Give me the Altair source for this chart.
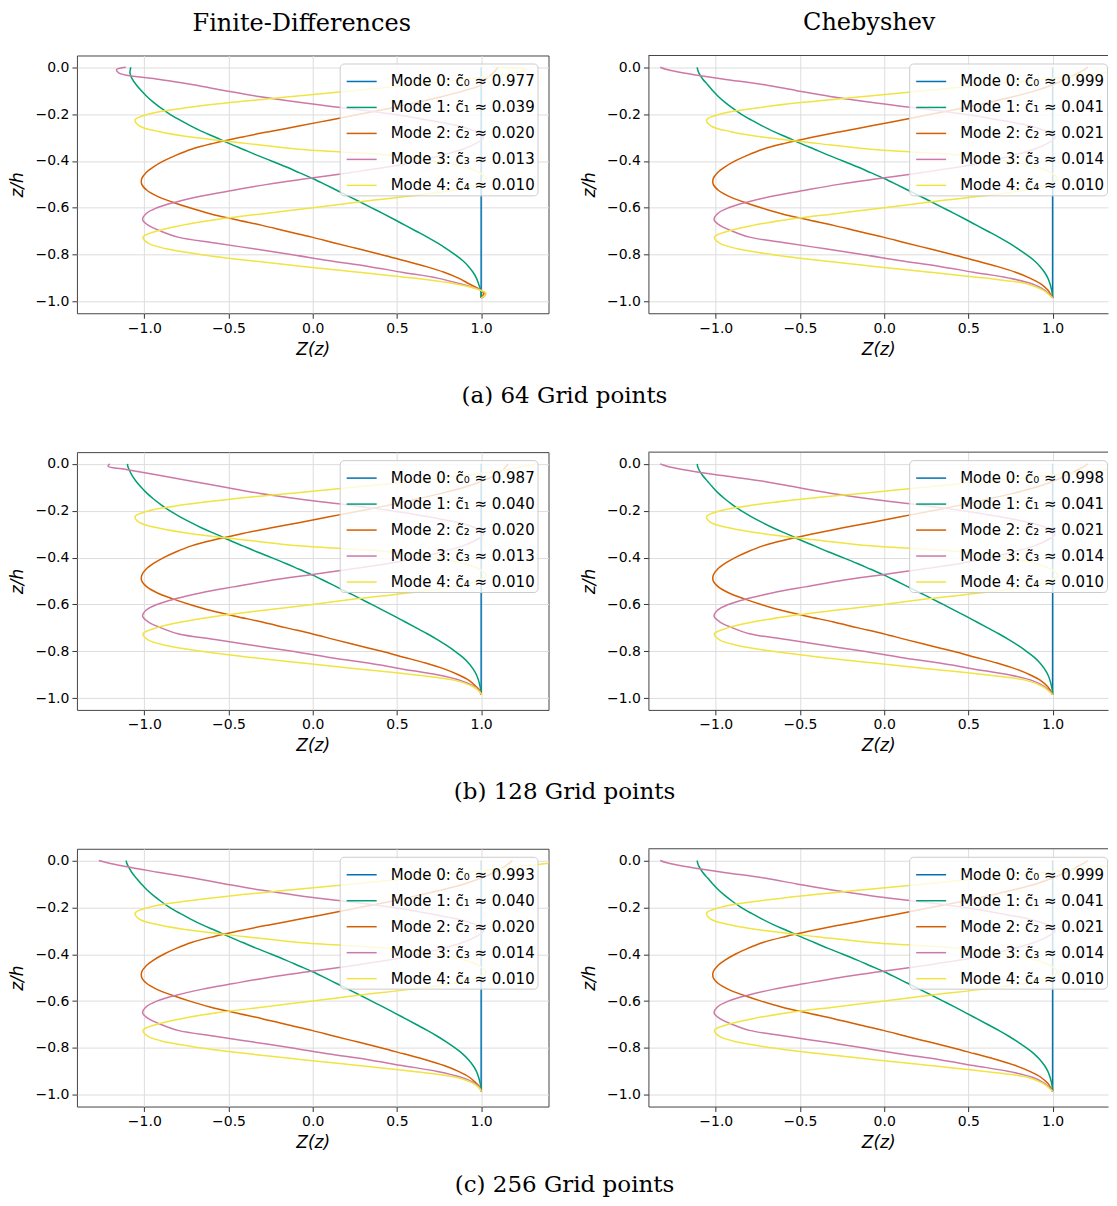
import altair as alt
import pandas as pd

# ---------------- data ----------------
# depth grid (z/h): top part, shared interior, bottom part
Z_TOP = [0.0, -0.01, -0.025, -0.05]
Z_MID = [-0.075, -0.1, -0.125, -0.15, -0.175, -0.2, -0.225, -0.25, -0.275, -0.3,
         -0.325, -0.35, -0.375, -0.4, -0.425, -0.45, -0.475, -0.5, -0.525, -0.55,
         -0.575, -0.6, -0.625, -0.65, -0.675, -0.7, -0.725, -0.75, -0.775, -0.8,
         -0.825, -0.85, -0.875, -0.9, -0.925]
Z_END = [-0.95, -0.965, -0.975, -0.985]

MODE0_Z = [0.0, -0.985]
MODE0_V = [1.0, 1.0]

M1_MID = [-1.048, -1.018, -0.985, -0.945, -0.900, -0.850, -0.790, -0.725, -0.655, -0.575,
          -0.497, -0.415, -0.333, -0.245, -0.160, -0.080, 0.000, 0.072, 0.142, 0.212,
          0.282, 0.350, 0.418, 0.485, 0.550, 0.615, 0.680, 0.740, 0.795, 0.845,
          0.890, 0.925, 0.952, 0.972, 0.985]
M2_MID = [1.00, 0.90, 0.77, 0.62, 0.46, 0.285, 0.105, -0.075, -0.26, -0.435,
          -0.59, -0.72, -0.81, -0.885, -0.945, -0.99, -1.015, -1.015, -0.985, -0.925,
          -0.835, -0.73, -0.61, -0.46, -0.30, -0.155, -0.005, 0.13, 0.27, 0.41,
          0.54, 0.67, 0.78, 0.865, 0.93]
M3_MID = [-0.71, -0.52, -0.32, -0.08, 0.20, 0.47, 0.68, 0.86, 0.97, 1.015,
          0.97, 0.89, 0.77, 0.63, 0.45, 0.22, -0.03, -0.27, -0.47, -0.66,
          -0.81, -0.925, -0.99, -1.01, -0.975, -0.90, -0.80, -0.58, -0.35, -0.12,
          0.09, 0.33, 0.53, 0.74, 0.88]
M4_MID = [0.60, 0.24, -0.12, -0.48, -0.77, -0.973, -1.055, -1.03, -0.91, -0.70,
          -0.40, -0.08, 0.45, 0.72, 0.90, 0.99, 1.03, 0.98, 0.83, 0.58,
          0.27, 0.0, -0.29, -0.57, -0.78, -0.93, -1.008, -0.98, -0.87, -0.66,
          -0.38, -0.06, 0.27, 0.60, 0.85]
MIDS = [M1_MID, M2_MID, M3_MID, M4_MID]

# per panel: values on Z_TOP and Z_END for modes 1..4
FD64_TOP = [[-1.08, -1.083, -1.085, -1.072], [1.10, 1.09, 1.07, 1.03],
            [-1.11, -1.165, -1.15, -0.93], [1.11, 1.27, 1.20, 0.92]]
FD64_END = [[0.997, 1.0, 1.0, 1.0], [0.995, 1.015, 1.01, 1.0],
            [0.995, 1.025, 1.02, 1.0], [0.99, 1.03, 1.02, 1.0]]
FD128_TOP = [[-1.10, -1.098, -1.09, -1.072], [1.16, 1.15, 1.13, 1.08],
             [-1.205, -1.215, -1.10, -0.905], [1.33, 1.26, 1.15, 0.90]]
FD128_END = [[0.994, 0.998, 1.0, 1.0], [0.97, 0.99, 0.997, 1.0],
             [0.96, 0.985, 0.995, 1.0], [0.95, 0.98, 0.993, 1.005]]
FD256_TOP = [[-1.107, -1.105, -1.095, -1.075], [1.185, 1.17, 1.14, 1.08],
             [-1.27, -1.22, -1.12, -0.92], [1.55, 1.42, 1.24, 0.93]]
FD256_END = [[0.994, 0.998, 1.0, 1.0], [0.97, 0.99, 0.997, 1.0],
             [0.96, 0.985, 0.995, 1.0], [0.95, 0.98, 0.993, 1.0]]
CH_TOP = [[-1.11, -1.108, -1.10, -1.078], [1.21, 1.19, 1.15, 1.08],
          [-1.33, -1.29, -1.19, -0.96], [1.55, 1.45, 1.30, 0.97]]
CH_END = [[0.994, 0.998, 0.999, 1.0], [0.97, 0.985, 0.993, 1.0],
          [0.95, 0.975, 0.99, 1.0], [0.94, 0.97, 0.985, 1.0]]

C_FD64 = [0.977, 0.039, 0.020, 0.013, 0.010]
C_CH64 = [0.999, 0.041, 0.021, 0.014, 0.010]
C_FD128 = [0.987, 0.040, 0.020, 0.013, 0.010]
C_CH128 = [0.998, 0.041, 0.021, 0.014, 0.010]
C_FD256 = [0.993, 0.040, 0.020, 0.014, 0.010]
C_CH256 = [0.999, 0.041, 0.021, 0.014, 0.010]

COLORS = ["#0072B2", "#009E73", "#D55E00", "#CC79A7", "#F0E442"]
SUBS = ["\u2080", "\u2081", "\u2082", "\u2083", "\u2084"]
X_TICKS = [-1.0, -0.5, 0.0, 0.5, 1.0]
Y_TICKS = [0.0, -0.2, -0.4, -0.6, -0.8, -1.0]
COL_TITLES = ["Finite-Differences", "Chebyshev"]
CAPTIONS = ["(a) 64 Grid points", "(b) 128 Grid points", "(c) 256 Grid points"]

SERIF = "DejaVu Serif"
SANS = "DejaVu Sans"


def panel(tops, ends, cvals, is_fd, title=None):
    labels = [f"Mode {k}: c\u0303{SUBS[k]} \u2248 {c:.3f}" for k, c in enumerate(cvals)]
    rows = []
    for i, (z, v) in enumerate(zip(MODE0_Z, MODE0_V)):
        rows.append({"i": i, "z": z, "v": v, "label": labels[0]})
    zs = Z_TOP + Z_MID + Z_END
    for m in range(4):
        vs = tops[m] + MIDS[m] + ends[m]
        for i, (z, v) in enumerate(zip(zs, vs)):
            rows.append({"i": i, "z": z, "v": v, "label": labels[m + 1]})
    df = pd.DataFrame(rows)

    width = 472 if is_fd else 460
    xmax = 1.4 if is_fd else 1.329
    lines = alt.Chart(df).mark_line(
        strokeWidth=1.5, interpolate="catmull-rom", clip=True
    ).encode(
        x=alt.X("v:Q", scale=alt.Scale(domain=[-1.4, xmax], nice=False, zero=False),
                axis=alt.Axis(values=X_TICKS, format=".1f", title="Z(z)",
                              domain=not is_fd, titlePadding=6)),
        y=alt.Y("z:Q", scale=alt.Scale(domain=[-1.05, 0.05], nice=False, zero=False),
                axis=alt.Axis(values=Y_TICKS, format=".1f", title="z/h",
                              domain=not is_fd, titlePadding=8)),
        color=alt.Color(
            "label:N",
            scale=alt.Scale(domain=labels, range=COLORS),
            legend=alt.Legend(
                title=None, orient="none",
                legendX=263 if is_fd else 261, legendY=8,
                fillColor="rgba(255,255,255,0.8)", strokeColor="#cccccc",
                cornerRadius=4, padding=2, symbolOffset=4,
                symbolType="stroke", symbolSize=900, symbolStrokeWidth=1.5,
                labelFont=SANS, labelFontSize=15, labelColor="black",
                labelLimit=400, labelOffset=13, rowPadding=2,
            ),
        ),
        order=alt.Order("i:Q"),
    )
    layers = [lines]
    if not is_fd:
        top = alt.Chart(pd.DataFrame({"k": [0]})).mark_rule(
            color="#444", strokeWidth=1
        ).encode(y=alt.value(0))
        layers.append(top)
    ch = alt.layer(*layers).properties(width=width, height=258)
    if is_fd:
        ch = ch.properties(view=alt.ViewBackground(stroke="#444", strokeWidth=1))
    else:
        ch = ch.properties(view=alt.ViewBackground(strokeOpacity=0))
    if title is not None:
        ch = ch.properties(title=alt.TitleParams(
            title, font=SERIF, fontSize=24, fontWeight="normal", color="black",
            anchor="middle", frame="group", offset=20,
            dx=-11 if is_fd else -9))
    return ch


def row(fd, chb, caption, offset):
    return alt.hconcat(fd, chb, spacing=31).resolve_scale(color="independent").properties(
        title=alt.TitleParams(caption, orient="bottom", font=SERIF, fontSize=23,
                              fontWeight="normal", color="black", anchor="middle",
                              offset=offset, dx=6)
    )


r1 = row(panel(FD64_TOP, FD64_END, C_FD64, True, COL_TITLES[0]),
         panel(CH_TOP, CH_END, C_CH64, False, COL_TITLES[1]), CAPTIONS[0], 27)
r2 = row(panel(FD128_TOP, FD128_END, C_FD128, True),
         panel(CH_TOP, CH_END, C_CH128, False), CAPTIONS[1], 27)
r3 = row(panel(FD256_TOP, FD256_END, C_FD256, True),
         panel(CH_TOP, CH_END, C_CH256, False), CAPTIONS[2], 23)

chart = alt.vconcat(r1, r2, r3, spacing=43).resolve_scale(color="independent").properties(
    padding={"left": 0, "top": 2, "right": 0, "bottom": 0}
).configure_axis(
    labelFont=SANS, labelFontSize=14, labelColor="black", labelPadding=3,
    titleFont=SANS, titleFontSize=17, titleFontWeight="normal", titleFontStyle="italic",
    titleColor="black",
    tickColor="#333", tickSize=5, gridColor="#dddddd", gridWidth=1, domainColor="#444",
).configure_legend(
    labelFont=SANS
)

chart.save("out.html", embed_options={"renderer": "svg", "actions": False})
